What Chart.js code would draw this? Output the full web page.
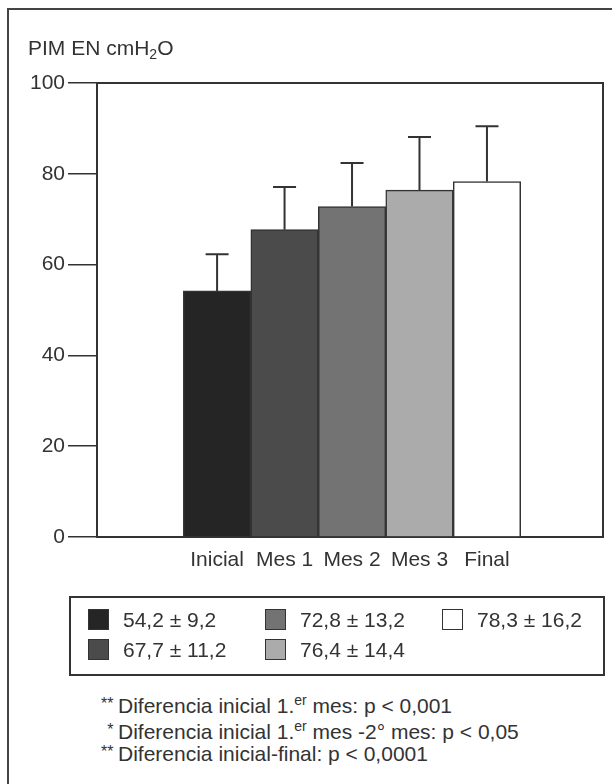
<!DOCTYPE html>
<html>
<head>
<meta charset="utf-8">
<script src="https://cdn.jsdelivr.net/npm/chart.js@4/dist/chart.umd.min.js"></script>
<style>
  body { margin: 0; background: #fff; font-family: 'Liberation Sans', Arial, sans-serif; color: #333; }
  #page { position: relative; width: 612px; height: 784px; overflow: hidden; }
  #frame { position: absolute; left: 7px; top: 8px; width: 620px; height: 800px; border-left: 2px solid #444; border-top: 2px solid #444; }
  #chart { position: absolute; left: 0; top: 0; }
  #ytitle { position: absolute; left: 28px; top: 36px; font-size: 21px; white-space: nowrap; }
  #ytitle sub { font-size: 14px; vertical-align: -4px; }
  #legend { position: absolute; left: 69px; top: 596px; width: 532px; height: 76px; border: 2px solid #333; }
  .item { position: absolute; font-size: 21px; white-space: nowrap; line-height: 21px; }
  .sw { position: absolute; width: 19px; height: 19px; border: 1px solid #333; }
  .note { position: absolute; left: 0; font-size: 21px; white-space: nowrap; }
  .note .ast { display: inline-block; width: 118px; text-align: right; font-size: 16px; vertical-align: 4px; }
  .note sup { font-size: 14px; vertical-align: 8px; line-height: 0; }
</style>
</head>
<body>
<div id="page">
  <div id="frame"></div>
  <canvas id="chart" width="612" height="600"></canvas>
  <div id="ytitle">PIM EN cmH<sub>2</sub>O</div>
  <div id="legend"></div>
  <div class="note" style="top:694px"><span class="ast">**&nbsp;</span>Diferencia inicial 1.<sup>er</sup> mes: p &lt; 0,001</div>
  <div class="note" style="top:720px"><span class="ast">*&nbsp;</span>Diferencia inicial 1.<sup>er</sup> mes -2° mes: p &lt; 0,05</div>
  <div class="note" style="top:742px"><span class="ast">**&nbsp;</span>Diferencia inicial-final: p &lt; 0,0001</div>
</div>
<script>
// ===== DATA =====
const categories = ['Inicial', 'Mes 1', 'Mes 2', 'Mes 3', 'Final'];
const means = [54.2, 67.7, 72.8, 76.4, 78.3];
const sds = [9.2, 11.2, 13.2, 14.4, 16.2];
const errorTops = [62.3, 77.1, 82.4, 88.1, 90.5];
const yTicks = [0, 20, 40, 60, 80, 100];
const barColors = ['#252525', '#4b4b4b', '#737373', '#ababab', '#ffffff'];

// layout: first bar centre on the linear x scale, slots of 1 unit
const firstSlot = 1.78;
const xMax = 7.5;
const ink = '#333';

const fmt = v => v.toFixed(1).replace('.', ',');

// ===== ERROR BARS =====
const errorBars = {
  id: 'errorBars',
  afterDatasetsDraw(chart) {
    const { ctx, scales: { x, y } } = chart;
    ctx.save();
    ctx.strokeStyle = ink;
    ctx.lineWidth = 2;
    means.forEach((m, i) => {
      const px = x.getPixelForValue(firstSlot + i);
      const yBar = y.getPixelForValue(m);
      const yTop = y.getPixelForValue(errorTops[i]);
      ctx.beginPath();
      ctx.moveTo(px, yBar);
      ctx.lineTo(px, yTop);
      ctx.moveTo(px - 11.5, yTop);
      ctx.lineTo(px + 11.5, yTop);
      ctx.stroke();
    });
    ctx.restore();
  }
};

const font = { family: "'Liberation Sans', Arial, sans-serif", size: 21 };

new Chart(document.getElementById('chart'), {
  type: 'bar',
  data: {
    datasets: [{
      data: means.map((m, i) => ({ x: firstSlot + i, y: m })),
      backgroundColor: barColors,
      borderColor: ink,
      borderWidth: 1.5,
      barPercentage: 1,
      categoryPercentage: 1
    }]
  },
  options: {
    responsive: false,
    animation: false,
    events: [],
    barPercentage: 1,
    categoryPercentage: 1,
    layout: { padding: { top: 83, right: 9, left: 0, bottom: 0 } },
    plugins: { legend: { display: false }, tooltip: { enabled: false } },
    scales: {
      x: {
        type: 'linear',
        offset: false,
        min: 0,
        max: xMax,
        afterBuildTicks: axis => { axis.ticks = categories.map((c, i) => ({ value: firstSlot + i })); },
        afterFit: axis => { axis.height = 63; },
        grid: { display: false, offset: false },
        border: { display: true, color: ink, width: 2 },
        ticks: {
          autoSkip: false,
          maxRotation: 0,
          padding: 3,
          color: ink,
          font,
          callback: (v, i) => categories[i]
        }
      },
      x2: {
        type: 'linear',
        position: 'top',
        afterFit: axis => { axis.height = 0; },
        grid: { display: false },
        ticks: { display: false },
        border: { display: true, color: ink, width: 2 }
      },
      y: {
        min: 0,
        max: 100,
        afterBuildTicks: axis => { axis.ticks = yTicks.map(v => ({ value: v })); },
        afterFit: axis => { axis.width = 97; },
        grid: { drawOnChartArea: false, drawTicks: true, tickLength: 29, color: ink, lineWidth: 1.5 },
        border: { display: true, color: ink, width: 2 },
        ticks: { padding: 3, color: ink, font }
      },
      y2: {
        position: 'right',
        afterFit: axis => { axis.width = 0; },
        grid: { display: false },
        ticks: { display: false },
        border: { display: true, color: ink, width: 2 }
      }
    }
  },
  plugins: [errorBars]
});

// ===== LEGEND (column-major, 2 rows) =====
const legendEl = document.getElementById('legend');
legendEl.innerHTML = means.map((m, i) => {
  const col = Math.floor(i / 2), row = i % 2;
  const left = 17 + col * 177, top = 11 + row * 30;
  return `<div class="sw" style="left:${left}px;top:${top}px;background:${barColors[i]}"></div>` +
    `<div class="item" style="left:${left + 35}px;top:${top}px">${fmt(m)} ± ${fmt(sds[i])}</div>`;
}).join('');
</script>
</body>
</html>
